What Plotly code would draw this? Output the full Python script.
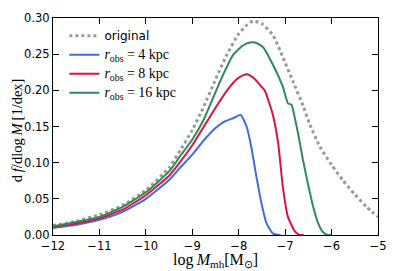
import plotly.graph_objects as go

# ---- data ----
x_orig = [-12, -11.5, -11, -10.5, -10, -9.5, -9.25, -9.0, -8.75, -8.5, -8.25, -8.0,
          -7.83, -7.69, -7.5, -7.26, -7.05, -6.83, -6.61, -6.47, -6.25, -6.0,
          -5.75, -5.5, -5.25, -5.0]
y_orig = [0.013, 0.019, 0.028, 0.041, 0.062, 0.093, 0.118, 0.145, 0.178, 0.215, 0.250, 0.278,
          0.290, 0.296, 0.292, 0.276, 0.246, 0.212, 0.178, 0.153, 0.122, 0.097,
          0.075, 0.056, 0.039, 0.025]

x_r4 = [-12, -11.5, -11, -10.5, -10, -9.5, -9.25, -9.0, -8.75, -8.5, -8.3, -8.1,
        -7.96, -7.83, -7.73, -7.62, -7.51, -7.40, -7.26, -7.1]
y_r4 = [0.0097, 0.014, 0.021, 0.032, 0.050, 0.076, 0.094, 0.111, 0.131, 0.148, 0.157, 0.162,
        0.166, 0.150, 0.122, 0.081, 0.044, 0.016, 0.002, 0.0]

x_r8 = [-12, -11.5, -11, -10.5, -10, -9.5, -9.25, -9.0, -8.75, -8.5, -8.25, -8.05,
        -7.90, -7.80, -7.66, -7.51, -7.44, -7.33, -7.26, -7.15, -7.05, -6.94, -6.79, -6.7, -6.6]
y_r8 = [0.011, 0.016, 0.023, 0.035, 0.055, 0.082, 0.102, 0.124, 0.150, 0.176, 0.200, 0.215,
        0.221, 0.222, 0.216, 0.205, 0.200, 0.180, 0.165, 0.127, 0.067, 0.025, 0.005, 0.0005, 0.0]

x_r16 = [-12, -11.5, -11, -10.5, -10, -9.5, -9.25, -9.0, -8.75, -8.55, -8.34, -8.12,
         -7.91, -7.76, -7.65, -7.48, -7.26, -7.05, -6.94, -6.86, -6.83, -6.72,
         -6.62, -6.5, -6.4, -6.3, -6.2, -6.1, -6.0]
y_r16 = [0.012, 0.018, 0.025, 0.039, 0.059, 0.088, 0.110, 0.132, 0.160, 0.190, 0.221, 0.249,
         0.262, 0.266, 0.266, 0.260, 0.235, 0.205, 0.182, 0.180, 0.173, 0.140,
         0.105, 0.068, 0.040, 0.018, 0.005, 0.0005, 0.0]

x_ticks = [-12, -11, -10, -9, -8, -7, -6, -5]
y_ticks = [0.00, 0.05, 0.10, 0.15, 0.20, 0.25, 0.30]

SERIF = "Liberation Serif"
SANS = "DejaVu Sans"

# the page body has an 8px margin, so the figure is drawn 8px smaller
W, H = 399, 263
ML, MR, MT, MB = 45, 29, 10, 36
PW, PH = W - ML - MR, H - MT - MB


def math_label(r):
    return ("<span style='font-family:Liberation Serif;font-size:14px'>"
            "<i>r</i><sub>obs</sub> = %s kpc</span>" % r)


fig = go.Figure()
fig.add_trace(go.Scatter(x=x_orig, y=y_orig, mode="lines", name="original",
                         line=dict(color="#999999", width=3, dash="dot",
                                   shape="spline", smoothing=0.5)))
fig.add_trace(go.Scatter(x=x_r4, y=y_r4, mode="lines", name=math_label(4),
                         line=dict(color="#4169e1", width=2, shape="spline", smoothing=0.5)))
fig.add_trace(go.Scatter(x=x_r8, y=y_r8, mode="lines", name=math_label(8),
                         line=dict(color="#dc143c", width=2, shape="spline", smoothing=0.5)))
fig.add_trace(go.Scatter(x=x_r16, y=y_r16, mode="lines", name=math_label(16),
                         line=dict(color="#2e8b57", width=2, shape="spline", smoothing=0.5)))

axis_common = dict(showline=True, linecolor="black", linewidth=1, mirror="ticks",
                   ticks="inside", ticklen=6, tickwidth=1, tickcolor="black",
                   showgrid=False, zeroline=False, automargin=False,
                   tickfont=dict(family=SANS, size=11.5, color="black"))

fig.update_xaxes(range=[-12, -5], tickvals=x_ticks, **axis_common)
fig.update_yaxes(range=[0, 0.30], tickvals=y_ticks, tickformat=".2f", **axis_common)

# axis titles placed as annotations
fig.add_annotation(text="log\u2009<i>M</i><sub>mh</sub>[M<sub>⊙</sub>]",
                   xref="paper", yref="paper", x=0.5, y=-(253 - (H - MB)) / PH,
                   xanchor="center", yanchor="middle", showarrow=False,
                   font=dict(family=SERIF, size=16, color="black"))
fig.add_annotation(text="d\u2009<i>f</i>/dlog\u2009<i>M</i>\u2009[1/dex]",
                   xref="paper", yref="paper", x=-(ML - 8.5) / PW, y=0.48,
                   xanchor="center", yanchor="middle", showarrow=False, textangle=-90,
                   font=dict(family=SERIF, size=14.5, color="black"))

fig.update_layout(
    width=W, height=H,
    margin=dict(l=ML, r=MR, t=MT, b=MB, autoexpand=False),
    plot_bgcolor="white", paper_bgcolor="white",
    showlegend=True,
    legend=dict(x=0.035, y=0.985, xanchor="left", yanchor="top",
                bgcolor="rgba(0,0,0,0)", borderwidth=0,
                font=dict(family=SANS, size=12, color="black"),
                tracegroupgap=0, itemwidth=30),
)

fig.write_html("out.html")
